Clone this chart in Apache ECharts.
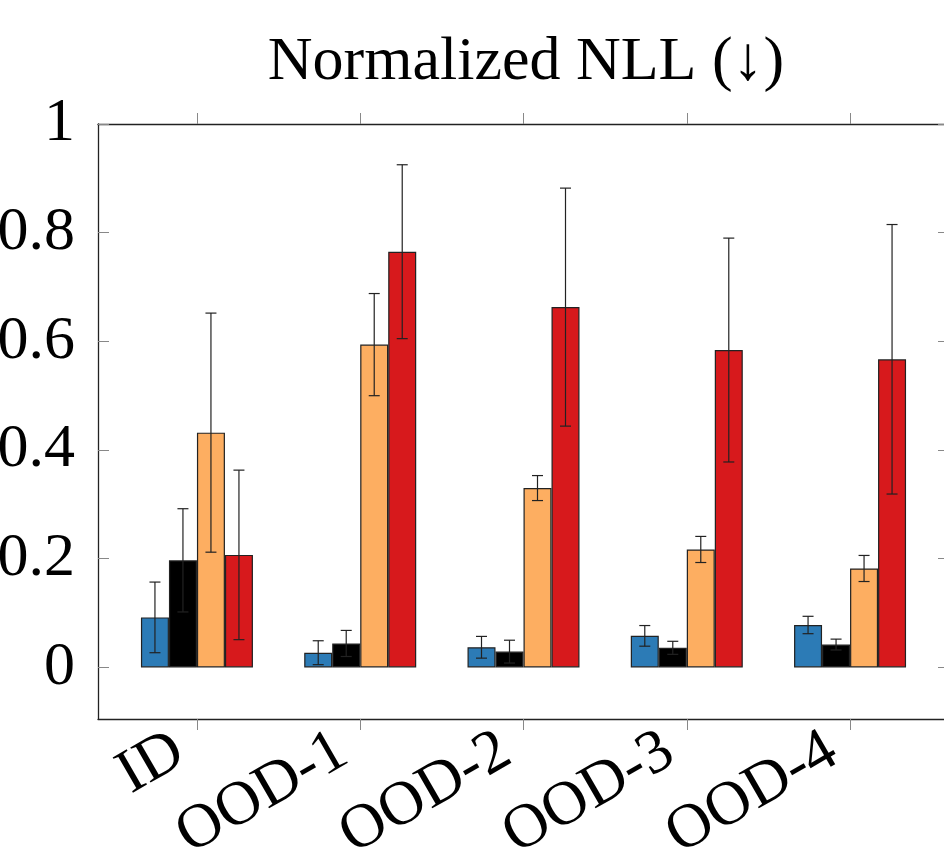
<!DOCTYPE html>
<html>
<head>
<meta charset="utf-8">
<script src="https://cdn.jsdelivr.net/npm/echarts@6/dist/echarts.min.js"></script>
<style>
  html, body { margin: 0; padding: 0; background: #fff; }
  #main { width: 944px; height: 848px; }
</style>
</head>
<body>
<div id="main"></div>
<script>
// 分组
const categories = ['ID', 'OOD-1', 'OOD-2', 'OOD-3', 'OOD-4']
// 四个方法的均值
const blueVals = [0.092, 0.027, 0.037, 0.058, 0.078]
const blackVals = [0.197, 0.044, 0.029, 0.036, 0.042]
const orangeVals = [0.432, 0.594, 0.330, 0.217, 0.182]
const redVals = [0.207, 0.765, 0.663, 0.584, 0.567]
// 误差（上下对称）
const blueErr = [0.065, 0.022, 0.020, 0.019, 0.016]
const blackErr = [0.095, 0.024, 0.021, 0.012, 0.010]
const orangeErr = [0.220, 0.094, 0.023, 0.024, 0.024]
const redErr = [0.156, 0.160, 0.219, 0.206, 0.248]
// y 轴刻度
const yTicks = [0, 0.2, 0.4, 0.6, 0.8, 1]
const xTicks = [0, 1, 2, 3, 4]

const FONT = '"Liberation Serif", "DejaVu Serif", serif'
const BAR_W = 28
const colors = ['#2c7bb6', '#000000', '#fdae61', '#d7191c']
const groups = [
    { vals: blueVals, err: blueErr },
    { vals: blackVals, err: blackErr },
    { vals: orangeVals, err: orangeErr },
    { vals: redVals, err: redErr }
]

const chart = echarts.init(document.getElementById('main'))

const series = []
groups.forEach((g, k) => {
    series.push({
        type: 'bar',
        xAxisIndex: 0,
        yAxisIndex: 0,
        barWidth: BAR_W,
        barGap: '0%',
        itemStyle: { color: colors[k], borderColor: '#222', borderWidth: 1.2 },
        data: g.vals.map((v, i) => [i, v])
    })
})
// 误差线
const errData = []
groups.forEach((g, k) => {
    g.vals.forEach((v, i) => errData.push([i, v, g.err[i], k]))
})
series.push({
    type: 'custom',
    xAxisIndex: 0,
    yAxisIndex: 0,
    z: 10,
    data: errData,
    renderItem (params, api) {
        const x = api.value(0)
        const y = api.value(1)
        const e = api.value(2)
        const k = api.value(3)
        const top = api.coord([x, y + e])
        const bot = api.coord([x, y - e])
        const px = top[0] + (k - 1.5) * BAR_W
        const cap = 5.5
        const style = { stroke: '#222', lineWidth: 1.2 }
        return {
            type: 'group',
            children: [
                { type: 'line', shape: { x1: px, y1: top[1], x2: px, y2: bot[1] }, style },
                { type: 'line', shape: { x1: px - cap, y1: top[1], x2: px + cap, y2: top[1] }, style },
                { type: 'line', shape: { x1: px - cap, y1: bot[1], x2: px + cap, y2: bot[1] }, style }
            ]
        }
    }
})

const frameLine = { show: true, onZero: false, lineStyle: { color: '#222', width: 1.3 } }
const tickStyle = { color: '#888', width: 1 }

option = {
    animation: false,
    title: {
        text: 'Normalized NLL (↓)',
        left: 521,
        top: 27,
        textAlign: 'center',
        textStyle: { fontFamily: FONT, fontSize: 62, fontWeight: 'normal', color: '#000' }
    },
    grid: { left: 98, top: 124, width: 851, height: 595, outerBoundsMode: 'none', containLabel: false },
    xAxis: [
        {
            type: 'value',
            position: 'bottom',
            min: -0.606,
            max: 4.606,
            splitLine: { show: false },
            axisLine: frameLine,
            axisTick: { show: true, customValues: xTicks, length: 11, lineStyle: tickStyle },
            axisLabel: {
                customValues: xTicks,
                formatter: v => categories[v],
                rotate: 30,
                margin: 18,
                padding: [0, 20, 0, 0],
                fontFamily: FONT,
                fontSize: 62,
                color: '#000'
            }
        },
        {
            type: 'value',
            position: 'top',
            min: -0.606,
            max: 4.606,
            splitLine: { show: false },
            axisLine: frameLine,
            axisTick: { show: true, customValues: xTicks, length: 11, lineStyle: tickStyle },
            axisLabel: { show: false }
        }
    ],
    yAxis: [
        {
            type: 'value',
            position: 'left',
            min: -0.095,
            max: 1,
            splitLine: { show: false },
            axisLine: frameLine,
            axisTick: { show: true, inside: true, customValues: yTicks, length: 11, lineStyle: tickStyle },
            axisLabel: {
                customValues: yTicks,
                formatter: v => String(v),
                margin: 23,
                fontFamily: FONT,
                fontSize: 62,
                color: '#000'
            }
        },
        {
            type: 'value',
            position: 'right',
            min: -0.095,
            max: 1,
            splitLine: { show: false },
            axisLine: frameLine,
            axisTick: { show: true, inside: true, customValues: yTicks, length: 11, lineStyle: tickStyle },
            axisLabel: { show: false }
        }
    ],
    series
}
chart.setOption(option)
</script>
</body>
</html>
